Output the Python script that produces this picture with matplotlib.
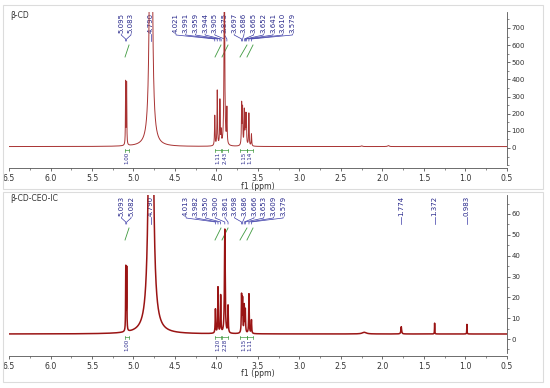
import numpy as np
import matplotlib.pyplot as plt
from matplotlib.patches import Rectangle
from matplotlib.ticker import MultipleLocator, FixedLocator

# ---- data ----
top_name = 'β-CD'
top_shifts = [5.095, 5.083, 4.790, 4.021, 3.991, 3.959, 3.944, 3.905, 3.875,
              3.697, 3.686, 3.665, 3.652, 3.641, 3.610, 3.579, 2.25, 1.93]
top_heights = [367, 360, 4000, 175, 320, 260, 75, 1100, 205,
               240, 210, 200, 165, 175, 190, 70, 4, 6]
top_hw = [0.0025, 0.0025, 0.011, 0.0035, 0.0035, 0.0035, 0.0035, 0.005, 0.0035,
          0.0035, 0.0035, 0.0035, 0.0035, 0.0035, 0.0035, 0.0035, 0.01, 0.01]
top_base = 8
top_label_groups = [[5.095, 5.083], [4.790],
                    [4.021, 3.991, 3.959, 3.944, 3.905, 3.875, 3.697, 3.686,
                     3.665, 3.652, 3.641, 3.610, 3.579]]
top_int_ranges = [(5.102, 5.054), (4.018, 3.946), (3.934, 3.861),
                  (3.717, 3.633), (3.633, 3.560)]
top_int_values = ['1.00', '1.11', '2.43', '1.15', '1.14']
top_yticks = [0, 100, 200, 300, 400, 500, 600, 700]

bot_name = 'β-CD-CEO-IC'
bot_shifts = [5.093, 5.082, 4.790, 4.013, 3.982, 3.950, 3.900, 3.861,
              3.698, 3.686, 3.666, 3.653, 3.609, 3.579, 2.22, 1.774, 1.372, 0.983]
bot_heights = [30.5, 30, 500, 11.5, 22, 18, 50, 13,
               18, 16, 13, 11, 19, 6.5, 0.8, 3.5, 5.2, 4.6]
bot_hw = [0.0025, 0.0025, 0.014, 0.0035, 0.0035, 0.0035, 0.005, 0.0035,
          0.0035, 0.0035, 0.0035, 0.0035, 0.0035, 0.0035, 0.03, 0.005, 0.002, 0.002]
bot_base = 2.4
bot_label_groups = [[5.093, 5.082], [4.790],
                    [4.013, 3.982, 3.950, 3.900, 3.861, 3.698, 3.686, 3.666,
                     3.653, 3.609, 3.579],
                    [1.774], [1.372], [0.983]]
bot_int_ranges = top_int_ranges
bot_int_values = ['1.00', '1.20', '2.28', '1.15', '1.11']
bot_yticks = [0, 10, 20, 30, 40, 50, 60]

W, H = 550, 388
X_LEFT, X_RIGHT = 9, 507
PX_PER_PPM = (X_RIGHT - X_LEFT) / 6.0
LABEL_COL = '#26268a'
LINK_COL = '#3b3ba8'
INT_COL = '#3f9a3f'
AX_COL = '#555555'

x = np.linspace(6.5, 0.5, 24001)


def spectrum(shifts, heights, widths, base):
    y = np.full_like(x, base, dtype=float)
    for s, h, w in zip(shifts, heights, widths):
        y += h / (1 + ((x - s) / w) ** 2)
    return y


def make_axes(fig, top_px, bot_px):
    ax = fig.add_axes([X_LEFT / W, 1 - bot_px / H,
                       (X_RIGHT - X_LEFT) / W, (bot_px - top_px) / H])
    return ax


def draw_panel(fig, top_px, bot_px, zero_px, ylim, spine_lo, yticks, yminor,
               name, y, lcol, lw, groups, int_ranges, int_values, int_under):
    ax = make_axes(fig, top_px, bot_px)
    h_px = bot_px - top_px

    def fr(px):
        return 1 - (px - top_px) / h_px

    ax.plot(x, y, color=lcol, lw=lw, zorder=5)
    ax.set_xlim(6.5, 0.5)
    ax.set_ylim(*ylim)

    for s in ['top', 'left']:
        ax.spines[s].set_visible(False)
    for s in ['right', 'bottom']:
        ax.spines[s].set_color(AX_COL)
        ax.spines[s].set_linewidth(0.6)
    ax.spines['right'].set_bounds(spine_lo, ylim[1])

    ax.yaxis.tick_right()
    ax.yaxis.set_major_locator(FixedLocator(yticks))
    ax.yaxis.set_minor_locator(MultipleLocator(yminor))
    ax.tick_params(axis='y', which='major', length=2, width=0.5, pad=1.2,
                   labelsize=5, colors='#333333')
    ax.tick_params(axis='y', which='minor', length=1.2, width=0.4,
                   colors='#333333')
    ax.xaxis.set_minor_locator(MultipleLocator(0.25))
    ax.tick_params(axis='x', which='major', length=2.2, width=0.5, pad=2.0,
                   labelsize=5.6, colors='#333333')
    ax.tick_params(axis='x', which='minor', length=1.5, width=0.4,
                   colors='#333333')
    xt = np.arange(6.5, 0.49, -0.5)
    ax.set_xticks(xt)
    ax.set_xticklabels(['%.1f' % v for v in xt])

    tr = ax.get_xaxis_transform()

    # peak labels with connector lines
    sp = 9.7 / PX_PER_PPM
    for g in groups:
        n = len(g)
        c = np.mean(g)
        for i, s in enumerate(g):
            lx = c + ((n - 1) / 2 - i) * sp
            ax.text(lx, fr(top_px + 1), '%.3f' % s, rotation=90, ha='center',
                    va='top', fontsize=5, color=LABEL_COL, transform=tr,
                    clip_on=False, zorder=3)
            ax.plot([lx, lx, s, s],
                    [fr(top_px + 22), fr(top_px + 23), fr(top_px + 27),
                     fr(top_px + 29)],
                    color=LINK_COL, lw=0.5, transform=tr, clip_on=False,
                    zorder=3)

    # integrals
    yb = zero_px + int_under
    for (a, b), v in zip(int_ranges, int_values):
        ax.plot([a, b], [fr(top_px + 45), fr(top_px + 33)], color=INT_COL,
                lw=0.6, transform=tr, zorder=4)
        ax.plot([a, b], [fr(yb), fr(yb)], color=INT_COL, lw=0.5,
                transform=tr, clip_on=False)
        for e in (a, b):
            ax.plot([e, e], [fr(yb - 1.5), fr(yb + 1.5)], color=INT_COL,
                    lw=0.5, transform=tr, clip_on=False)
        ax.text((a + b) / 2, fr(yb + 2), v, rotation=90, ha='center',
                va='top', fontsize=4, color=LABEL_COL, transform=tr,
                clip_on=False)

    fig.text(X_LEFT / W + 0.002, 1 - (top_px + 4) / H, name, fontsize=5.5,
             color='#333333', va='center', ha='left')
    fig.text((X_LEFT + X_RIGHT) / 2 / W, 1 - (bot_px + 18) / H, 'f1 (ppm)',
             fontsize=5.6, color='#333333', ha='center', va='center')
    return ax


fig = plt.figure(figsize=(W / 100, H / 100), dpi=100)
fig.patch.set_facecolor('white')
for (x0, y0, x1, y1) in [(3, 5, 543, 189), (3, 192, 543, 382)]:
    fig.patches.append(Rectangle((x0 / W, 1 - y1 / H), (x1 - x0) / W,
                                 (y1 - y0) / H, transform=fig.transFigure,
                                 fill=False, edgecolor='#dcdcdc', lw=0.8))

y_top = spectrum(top_shifts, top_heights, top_hw, top_base)
y_bot = spectrum(bot_shifts, bot_heights, bot_hw, bot_base)

draw_panel(fig, 12, 168, 148, (-117, 793), -100, top_yticks, 50,
           top_name, y_top, '#a83232', 0.7, top_label_groups,
           top_int_ranges, top_int_values, 2)
draw_panel(fig, 195, 356, 339, (-8.16, 69.12), -6.7, bot_yticks, 5,
           bot_name, y_bot, '#9a1414', 1.1, bot_label_groups,
           bot_int_ranges, bot_int_values, -2)

fig.savefig('out.png', dpi=100)
